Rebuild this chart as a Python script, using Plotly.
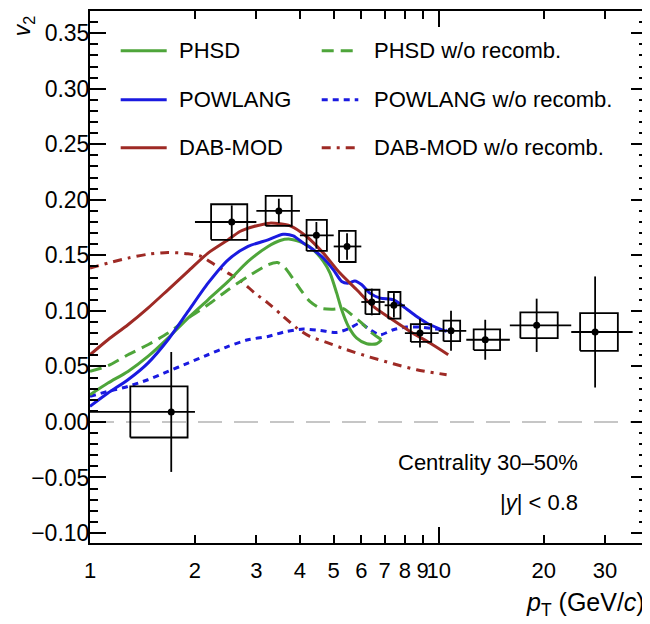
import plotly.graph_objects as go

# ---------------- data ----------------
pt = [1.71, 2.55, 3.48, 4.46, 5.46, 6.43, 7.44, 8.84, 10.85, 13.6, 19.1, 28.1]
v2 = [0.009, 0.180, 0.190, 0.168, 0.158, 0.108, 0.105, 0.080, 0.082, 0.074, 0.087, 0.081]
v2_stat = [0.054, 0.015, 0.011, 0.012, 0.012, 0.012, 0.011, 0.013, 0.018, 0.018, 0.024, 0.050]
v2_syst = [0.023, 0.016, 0.0135, 0.014, 0.014, 0.011, 0.012, 0.008, 0.0093, 0.0093, 0.0116, 0.017]
bin_lo = [1, 2, 3, 4, 5, 6, 7, 8, 10, 12, 16, 24]
bin_hi = [2, 3, 4, 5, 6, 7, 8, 10, 12, 16, 24, 36]

phsd_pt = [1.00, 1.126, 1.285, 1.466, 1.674, 1.91, 2.18, 2.49, 2.84, 3.24, 3.51, 3.75, 4.09, 4.37,
           4.67, 4.88, 5.10, 5.27, 5.51, 5.82, 6.22, 6.64, 6.86]
phsd_v2 = [0.0245, 0.035, 0.0455, 0.059, 0.0755, 0.0935, 0.110, 0.1265, 0.1445, 0.158, 0.1634, 0.1646,
           0.161, 0.155, 0.1445, 0.134, 0.116, 0.101, 0.086, 0.0755, 0.0704, 0.0704, 0.074]

phsd_norec_pt = [1.00, 1.126, 1.285, 1.466, 1.674, 1.91, 2.18, 2.49, 2.84, 3.24, 3.45, 3.62, 3.83,
                 4.05, 4.27, 4.57, 4.93, 5.33, 5.63, 6.02, 6.35, 6.86]
phsd_norec_v2 = [0.0455, 0.0506, 0.0605, 0.0695, 0.080, 0.0935, 0.1055, 0.119, 0.131, 0.1415, 0.1435,
                 0.139, 0.1285, 0.1175, 0.1085, 0.1025, 0.1015, 0.102, 0.0965, 0.089, 0.0815, 0.074]

powlang_pt = [1.00, 1.126, 1.285, 1.466, 1.674, 1.91, 2.18, 2.49, 2.84, 3.24, 3.58, 3.83, 4.09, 4.37,
              4.67, 4.99, 5.27, 5.51, 5.75, 6.02, 6.35, 6.79, 7.41, 7.92, 8.65, 9.44, 10.54]
powlang_v2 = [0.014, 0.026, 0.038, 0.053, 0.074, 0.0995, 0.125, 0.146, 0.158, 0.164, 0.169, 0.1676,
              0.161, 0.155, 0.1475, 0.137, 0.1265, 0.125, 0.127, 0.1235, 0.116, 0.1115, 0.110, 0.104,
              0.095, 0.0875, 0.0815]

powlang_norec_pt = [1.00, 1.126, 1.285, 1.466, 1.674, 1.91, 2.18, 2.49, 2.84, 3.24, 3.66, 4.09, 4.57,
                    5.10, 5.57, 5.95, 6.35, 6.79, 7.41, 8.09, 8.84, 9.87, 10.54]
powlang_norec_v2 = [0.023, 0.0275, 0.032, 0.038, 0.0455, 0.053, 0.0605, 0.068, 0.074, 0.077, 0.0815,
                    0.0836, 0.0824, 0.0806, 0.0845, 0.089, 0.083, 0.0785, 0.083, 0.0854, 0.0854, 0.0836,
                    0.0824]

dab_pt = [1.00, 1.126, 1.285, 1.466, 1.674, 1.91, 2.18, 2.49, 2.69, 2.95, 3.28, 3.75, 4.18, 4.67,
          5.21, 5.82, 6.49, 7.25, 8.28, 9.44, 10.65]
dab_v2 = [0.0605, 0.074, 0.0875, 0.1025, 0.119, 0.1355, 0.152, 0.164, 0.1715, 0.176, 0.179, 0.1766,
          0.167, 0.152, 0.134, 0.119, 0.104, 0.0935, 0.0815, 0.071, 0.0605]

dab_norec_pt = [1.00, 1.126, 1.285, 1.466, 1.674, 1.91, 2.085, 2.28, 2.49, 2.72, 2.97, 3.24, 3.54,
                3.92, 4.27, 4.77, 5.45, 6.35, 7.41, 8.65, 10.54]
dab_norec_v2 = [0.1385, 0.143, 0.1475, 0.151, 0.1526, 0.1514, 0.149, 0.1415, 0.134, 0.1265, 0.116,
                0.107, 0.0965, 0.0845, 0.077, 0.0716, 0.065, 0.0584, 0.0524, 0.047, 0.0425]

x_tickvals = [1, 2, 3, 4, 5, 6, 7, 8, 9, 10, 20, 30]
x_ticktext = ["1", "2", "3", "4", "5", "6", "7", "8", "9", "10", "20", "30"]

# ---------------- style ----------------
GREEN = "#4ea53a"
BLUE = "#1a1ae0"
RED = "#9e2a25"
FONT = "Liberation Sans, Arial, sans-serif"
BOX_FRAC = 0.3

fig = go.Figure()

models = [
    (phsd_pt, phsd_v2, GREEN, "solid", "PHSD"),
    (phsd_norec_pt, phsd_norec_v2, GREEN, "12px,7px", "PHSD w/o recomb."),
    (powlang_pt, powlang_v2, BLUE, "solid", "POWLANG"),
    (powlang_norec_pt, powlang_norec_v2, BLUE, "6px,5px", "POWLANG w/o recomb."),
    (dab_pt, dab_v2, RED, "solid", "DAB-MOD"),
    (dab_norec_pt, dab_norec_v2, RED, "9px,6px,3px,6px", "DAB-MOD w/o recomb."),
]
draw_order = [5, 3, 1, 0, 2, 4]
for i in draw_order:
    x, y, c, d, name = models[i]
    fig.add_trace(go.Scatter(x=x, y=y, mode="lines", name=name,
                             line=dict(color=c, width=3, dash=d, shape="spline", smoothing=0.7),
                             showlegend=False, hoverinfo="skip"))

# systematic boxes
bx, by = [], []
for p, v, s, lo, hi in zip(pt, v2, v2_syst, bin_lo, bin_hi):
    c = 0.5 * (p + 0.5 * (lo + hi))
    hw = BOX_FRAC * (hi - lo)
    bx += [c - hw, c + hw, c + hw, c - hw, c - hw, None]
    by += [v - s, v - s, v + s, v + s, v - s, None]
fig.add_trace(go.Scatter(x=bx, y=by, mode="lines", line=dict(color="black", width=1.8),
                         showlegend=False, hoverinfo="skip"))

# data points with stat errors and bin widths
fig.add_trace(go.Scatter(
    x=pt, y=v2, mode="markers",
    marker=dict(color="black", size=7),
    error_y=dict(type="data", array=v2_stat, color="black", thickness=1.8, width=0),
    error_x=dict(type="data", array=[h - p for h, p in zip(bin_hi, pt)],
                 arrayminus=[p - l for l, p in zip(bin_lo, pt)],
                 color="black", thickness=1.8, width=0),
    showlegend=False))

shapes = []
# zero line
shapes.append(dict(type="line", xref="paper", x0=0, x1=1, yref="y", y0=0, y1=0,
                   line=dict(color="#b4b4b4", width=1.6, dash="24px,12px"), layer="below"))

annotations = []
# manual legend (two columns)
leg_rows = [0.9254, 0.8333, 0.7430]
col1 = (0.0551, 0.1377, 0.1562)
col2 = (0.4160, 0.4817, 0.5057)
TXT = 22
for k, i in enumerate([0, 2, 4]):
    _, _, c, d, name = models[i]
    shapes.append(dict(type="line", xref="paper", yref="paper", x0=col1[0], x1=col1[1],
                       y0=leg_rows[k], y1=leg_rows[k], line=dict(color=c, width=3, dash=d)))
    annotations.append(dict(xref="paper", yref="paper", x=col1[2], y=leg_rows[k], text=name,
                            showarrow=False, xanchor="left", yanchor="middle",
                            font=dict(size=TXT, color="black", family=FONT)))
for k, i in enumerate([1, 3, 5]):
    _, _, c, d, name = models[i]
    shapes.append(dict(type="line", xref="paper", yref="paper", x0=col2[0], x1=col2[1],
                       y0=leg_rows[k], y1=leg_rows[k], line=dict(color=c, width=3, dash=d)))
    annotations.append(dict(xref="paper", yref="paper", x=col2[2], y=leg_rows[k], text=name,
                            showarrow=False, xanchor="left", yanchor="middle",
                            font=dict(size=TXT, color="black", family=FONT)))

annotations += [
    dict(xref="paper", yref="paper", x=0.8797, y=0.1504, text="Centrality 30\u201350%",
         showarrow=False, xanchor="right", yanchor="middle", font=dict(size=TXT, family=FONT)),
    dict(xref="paper", yref="paper", x=0.8797, y=0.0752, text="|<i>y</i>| &lt; 0.8",
         showarrow=False, xanchor="right", yanchor="middle", font=dict(size=TXT, family=FONT)),
    dict(xref="paper", yref="paper", x=-0.118, y=0.972, text="<i>v</i><sub>2</sub>",
         textangle=-90, showarrow=False, xanchor="center", yanchor="middle",
         font=dict(size=23, family=FONT)),
    dict(xref="paper", yref="paper", x=1.0, y=-0.115, text="<i>p</i><sub>T</sub> (GeV/<i>c</i>)",
         showarrow=False, xanchor="right", yanchor="middle", font=dict(size=25, family=FONT)),
]

XRANGE = [0, 1.5975]
# the page body adds an 8 px offset, so the figure is sized to the visible area
fig.update_layout(
    width=642, height=616,
    margin=dict(l=82, r=3, t=3, b=81, autoexpand=False),
    paper_bgcolor="white", plot_bgcolor="white",
    font=dict(family=FONT, size=22, color="black"),
    shapes=shapes, annotations=annotations,
    xaxis=dict(type="log", range=XRANGE, tickvals=x_tickvals, ticktext=x_ticktext,
               tickangle=0, automargin=False,
               ticks="inside", ticklen=8, tickwidth=1.6, tickcolor="black",
               showline=True, linecolor="black", linewidth=2, mirror="ticks",
               showgrid=False, zeroline=False, tickfont=dict(size=22),
               ticklabelstandoff=7),
    xaxis2=dict(type="log", range=XRANGE, overlaying="x", side="bottom", automargin=False,
                tickvals=[1, 10], ticks="inside", ticklen=16, tickwidth=1.6, tickcolor="black",
                showticklabels=False, showline=False, mirror="ticks", showgrid=False,
                zeroline=False),
    yaxis=dict(range=[-0.109, 0.370], tick0=0, dtick=0.05, tickformat=".2f", automargin=False,
               ticks="inside", ticklen=16, tickwidth=1.6, tickcolor="black",
               minor=dict(dtick=0.01, ticks="inside", ticklen=8, tickwidth=1.6, tickcolor="black",
                          showgrid=False),
               showline=True, linecolor="black", linewidth=2, mirror="ticks",
               showgrid=False, zeroline=False, tickfont=dict(size=23),
               ticklabelstandoff=-6),
)
# dummy invisible trace to bind xaxis2
fig.add_trace(go.Scatter(x=[1, 10], y=[0, 0], xaxis="x2", yaxis="y", mode="lines",
                         line=dict(width=0), opacity=0, showlegend=False, hoverinfo="skip"))

fig.write_html("out.html")
